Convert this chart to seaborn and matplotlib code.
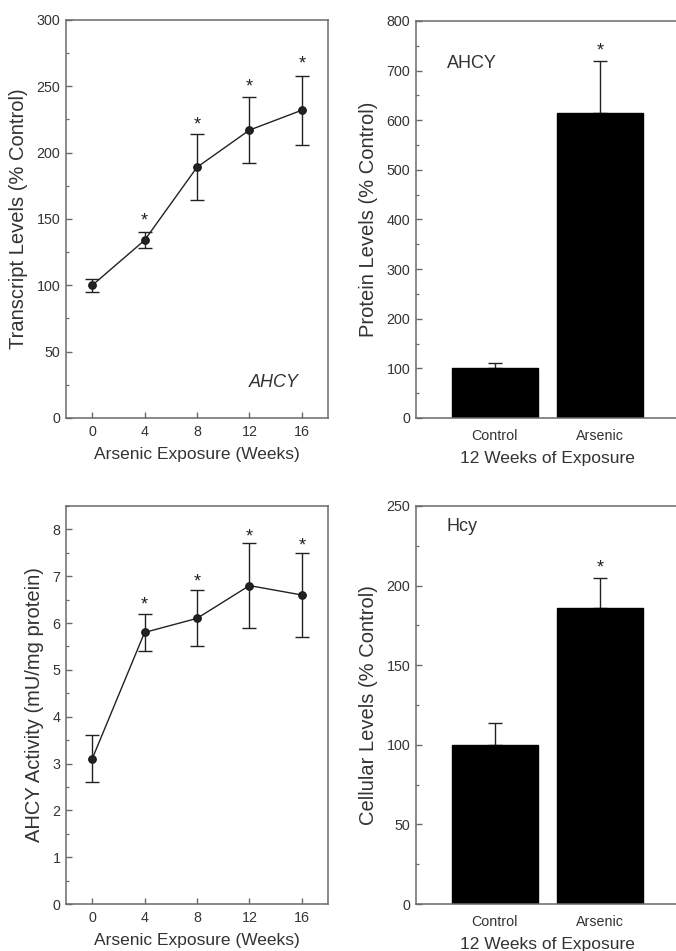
import numpy as np
import pandas as pd
import seaborn as sns
import matplotlib.pyplot as plt
from matplotlib.ticker import MultipleLocator
from matplotlib.transforms import offset_copy

# transcript levels (% control) vs arsenic exposure
weeks = [0, 4, 8, 12, 16]
transcript = [100, 134, 189, 217, 232]
transcript_err = [5, 6, 25, 25, 26]
transcript_star = [151, 223, 252, 269]

# AHCY activity (mU/mg protein)
activity = [3.1, 5.8, 6.1, 6.8, 6.6]
activity_err = [0.5, 0.4, 0.6, 0.9, 0.9]
activity_star = [6.45, 6.95, 7.91, 7.72]

# 12 weeks of exposure, bar panels
groups = ['Control', 'Arsenic']
protein = [100, 614]
protein_err = [11, 106]
cellular = [100, 186]
cellular_err = [14, 19]

TXT = '#333333'
SPINE = '#6a6a6a'

sns.set_style('ticks')
plt.rcParams['font.family'] = ['Liberation Sans', 'DejaVu Sans']
plt.rcParams.update({
    'axes.edgecolor': SPINE,
    'axes.linewidth': 1.1,
    'xtick.color': SPINE,
    'ytick.color': SPINE,
    'xtick.labelcolor': TXT,
    'ytick.labelcolor': TXT,
    'xtick.direction': 'in',
    'ytick.direction': 'in',
    'xtick.major.size': 4,
    'ytick.major.size': 4,
    'ytick.minor.size': 2.5,
    'xtick.major.width': 1.0,
    'ytick.major.width': 1.0,
    'ytick.minor.width': 0.9,
    'xtick.labelsize': 10.3,
    'ytick.labelsize': 10.3,
    'xtick.major.pad': 5,
    'ytick.major.pad': 4,
    'axes.labelcolor': TXT,
})

fig = plt.figure(figsize=(6.76, 9.51), dpi=100)
W, H = 676, 951


def add_ax(left, top, right, bottom):
    return fig.add_axes([left / W, 1 - bottom / H, (right - left) / W, (bottom - top) / H])


def star(ax, x, y):
    tr = offset_copy(ax.transData, fig=fig, x=0, y=-3, units='dots')
    ax.text(x, y, '*', ha='center', va='center', fontsize=13, color='#222222', transform=tr)


def line_panel(ax, vals, errs, star_y, ylim, major, minor, ylabel):
    df = pd.DataFrame({'week': weeks, 'val': vals})
    sns.lineplot(data=df, x='week', y='val', color='#222222', lw=1.0,
                 marker='o', markersize=5.5, markeredgecolor='#111111', ax=ax)
    ax.errorbar(weeks, vals, yerr=errs, fmt='none', ecolor='#222222',
                elinewidth=1.0, capsize=5, capthick=1.0)
    for w, s in zip(weeks[1:], star_y):
        star(ax, w, s)
    ax.set_xlim(-2, 18)
    ax.set_ylim(*ylim)
    ax.set_xticks(weeks)
    ax.yaxis.set_major_locator(MultipleLocator(major))
    ax.yaxis.set_minor_locator(MultipleLocator(minor))
    ax.set_xlabel('Arsenic Exposure (Weeks)', fontsize=12.5, labelpad=6)
    ax.set_ylabel(ylabel, fontsize=14.5, labelpad=6)


def bar_panel(ax, vals, errs, star_y, ylim, major, minor, ylabel, tag, tag_y):
    df = pd.DataFrame({'group': groups, 'val': vals})
    sns.barplot(data=df, x='group', y='val', color='black', width=0.81,
                saturation=1, edgecolor='black', errorbar=None, ax=ax)
    ax.errorbar([0, 1], vals, yerr=[[0, 0], errs], fmt='none', ecolor='#222222',
                elinewidth=1.0, capsize=5, capthick=1.0, zorder=0.5)
    star(ax, 1, star_y)
    ax.text(-0.46, tag_y, tag, ha='left', va='center', fontsize=13, color=TXT)
    ax.set_xlim(-0.75, 1.75)
    ax.set_ylim(*ylim)
    ax.yaxis.set_major_locator(MultipleLocator(major))
    ax.yaxis.set_minor_locator(MultipleLocator(minor))
    ax.tick_params(axis='x', length=0, pad=8)
    ax.set_xlabel('12 Weeks of Exposure', fontsize=12.5, labelpad=6)
    ax.set_ylabel(ylabel, fontsize=14.5, labelpad=6)
    ax.spines['right'].set_visible(False)


ax1 = add_ax(66, 20, 328, 418)
line_panel(ax1, transcript, transcript_err, transcript_star, (0, 300), 50, 25,
           'Transcript Levels (% Control)')
ax1.text(15.8, 27, 'AHCY', ha='right', va='center', fontsize=13, style='italic', color=TXT)

ax2 = add_ax(416, 21, 679, 418)
bar_panel(ax2, protein, protein_err, 746, (0, 800), 100, 50,
          'Protein Levels (% Control)', 'AHCY', 714)

ax3 = add_ax(66, 506, 328, 904)
line_panel(ax3, activity, activity_err, activity_star, (0, 8.5), 1, 0.5,
           'AHCY Activity (mU/mg protein)')

ax4 = add_ax(416, 506, 679, 904)
bar_panel(ax4, cellular, cellular_err, 213, (0, 250), 50, 25,
          'Cellular Levels (% Control)', 'Hcy', 237)

fig.savefig('out.png', dpi=100)
